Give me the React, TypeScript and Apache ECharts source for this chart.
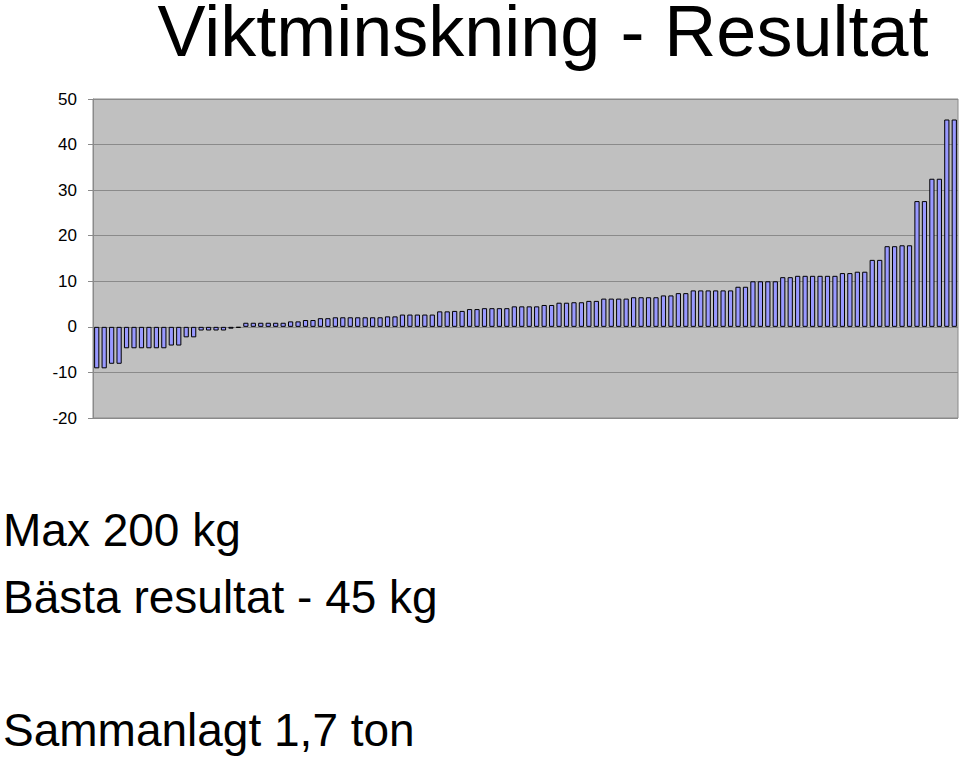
import React, { useEffect, useRef } from "react";
import * as echarts from "echarts";

const title = "Viktminskning - Resultat";
const notes = ["Max 200 kg", "Bästa resultat - 45 kg", "Sammanlagt 1,7 ton"];
const yTicks = { min: -20, max: 50, interval: 10 };

// 116 participants, sorted weight loss in kg
const weightLoss: number[] = [
  -9.1, -9.1, -8.1, -8.1,
  -4.7, -4.7, -4.7, -4.7, -4.7, -4.7,
  -4.1, -4.1, -2.3, -2.3,
  -0.8, -0.8, -0.8, -0.8, -0.4, -0.2,
  0.9, 0.9, 0.9, 0.9, 0.9, 0.9,
  1.2, 1.2, 1.5, 1.5, 1.9, 1.9,
  2.1, 2.1, 2.1, 2.1, 2.1, 2.1, 2.1,
  2.3, 2.3,
  2.7, 2.7, 2.7, 2.7, 2.7,
  3.4, 3.4, 3.5, 3.5, 3.9, 3.9,
  4.1, 4.1, 4.1, 4.1,
  4.5, 4.5, 4.5, 4.5,
  4.8, 4.8, 5.3, 5.3, 5.4, 5.4, 5.7, 5.7,
  6.2, 6.2, 6.2, 6.2,
  6.5, 6.5, 6.5, 6.5,
  6.9, 6.9, 7.4, 7.4,
  8.0, 8.0, 8.0, 8.0, 8.0, 8.0,
  8.8, 8.8,
  10.0, 10.0, 10.0, 10.0,
  10.9, 10.9,
  11.2, 11.2, 11.2, 11.2, 11.2, 11.2,
  11.8, 11.8, 12.1, 12.1,
  14.7, 14.7, 17.7, 17.7, 17.9, 17.9,
  27.6, 27.6, 32.5, 32.5, 45.5, 45.5,
];
const participants = weightLoss.map((_, i) => String(i + 1));

const FONT = "'Liberation Sans', Arial, Helvetica, sans-serif";

export default function App() {
  const ref = useRef<HTMLDivElement>(null);
  useEffect(() => {
    if (!ref.current) return;
    const chart = echarts.init(ref.current, null, { renderer: "svg" });
    chart.setOption({
      animation: false,
      backgroundColor: "#ffffff",
      grid: {
        left: 93,
        right: 2,
        top: 99,
        bottom: 339,
        show: true,
        backgroundColor: "#C0C0C0",
        borderColor: "#8a8a8a",
        borderWidth: 1,
      },
      xAxis: {
        type: "category",
        data: participants,
        axisLine: { show: false },
        axisTick: { show: false },
        axisLabel: { show: false },
      },
      yAxis: {
        type: "value",
        min: yTicks.min,
        max: yTicks.max,
        interval: yTicks.interval,
        axisLine: { show: true, lineStyle: { color: "#8a8a8a", width: 1 } },
        axisTick: { show: true, length: 5, lineStyle: { color: "#8a8a8a" } },
        axisLabel: {
          color: "#000",
          fontSize: 17,
          fontFamily: FONT,
          margin: 16,
        },
        splitLine: { show: true, lineStyle: { color: "#8a8a8a", width: 1 } },
      },
      series: [
        {
          type: "bar",
          data: weightLoss,
          barCategoryGap: "30%",
          itemStyle: { color: "#9999FF", borderColor: "#000000", borderWidth: 1 },
        },
      ],
      graphic: [
        {
          type: "text",
          x: 543,
          y: 31,
          style: {
            text: title,
            textAlign: "center",
            textVerticalAlign: "middle",
            lineHeight: 60,
            font: `72px ${FONT}`,
            fill: "#000",
          },
        },
        ...notes.map((t, i) => ({
          type: "text",
          x: 3,
          y: [553, 620, 753][i],
          style: {
            text: t,
            textAlign: "left",
            textVerticalAlign: "bottom",
            font: `46px ${FONT}`,
            fill: "#000",
          },
        })),
      ],
    });
    return () => chart.dispose();
  }, []);
  return (
    <div
      ref={ref}
      style={{ position: "fixed", left: 0, top: 0, width: 960, height: 757 }}
    />
  );
}
